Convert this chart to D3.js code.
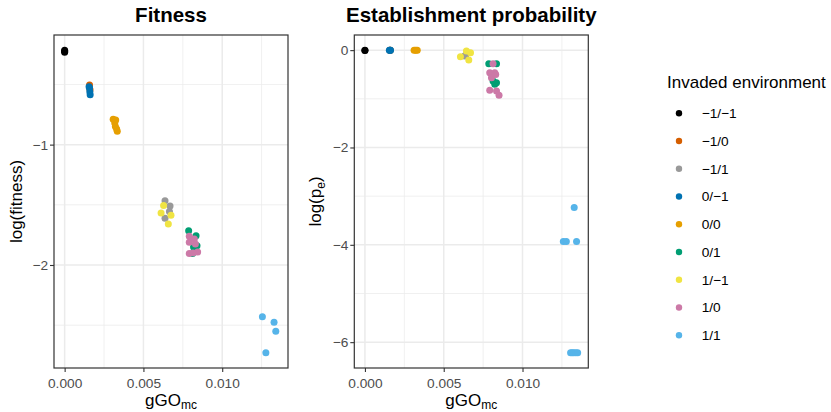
<!DOCTYPE html>
<html>
<head>
<meta charset="utf-8">
<script src="https://cdn.jsdelivr.net/npm/d3@7"></script>
<style>
  html, body { margin: 0; padding: 0; background: #ffffff; }
  svg { display: block; font-family: "Liberation Sans", Arial, Helvetica, sans-serif; }
</style>
</head>
<body>
<svg id="chart" width="831" height="412"></svg>
<script>
// Invaded environment categories and their colours (Okabe–Ito palette)
const envLabels = ["−1/−1", "−1/0", "−1/1", "0/−1", "0/0", "0/1", "1/−1", "1/0", "1/1"];
const envColors = ["#000000", "#D55E00", "#999999", "#0072B2", "#E69F00", "#009E73", "#F0E442", "#CC79A7", "#56B4E9"];

// [gGO_mc, log(fitness)] per invaded environment
const fitness_m1m1 = [[0, -0.215], [0, -0.225], [0, -0.232]];
const fitness_m10  = [[0.00158, -0.505], [0.00161, -0.545]];
const fitness_m11  = [[0.00637, -1.467], [0.00669, -1.509], [0.00665, -1.555], [0.00637, -1.611]];
const fitness_0m1  = [[0.00155, -0.52], [0.00160, -0.56], [0.00162, -0.585], [0.00158, -0.53]];
const fitness_00   = [[0.00308, -0.79], [0.00324, -0.795], [0.00318, -0.82], [0.00322, -0.85], [0.00330, -0.87], [0.00334, -0.888]];
const fitness_01   = [[0.00787, -1.716], [0.00834, -1.757], [0.00840, -1.84], [0.00818, -1.85], [0.00812, -1.905]];
const fitness_1m1  = [[0.00628, -1.505], [0.00612, -1.569], [0.00675, -1.586], [0.00658, -1.66]];
const fitness_10   = [[0.00791, -1.762], [0.00791, -1.812], [0.00823, -1.785], [0.00830, -1.826], [0.00791, -1.905], [0.00844, -1.893], [0.00815, -1.90]];
const fitness_11   = [[0.01255, -2.43], [0.01329, -2.475], [0.01340, -2.55], [0.01277, -2.73]];

// [gGO_mc, log(p_e)] per invaded environment
const pe_m1m1 = [[0, 0], [0, -0.01]];
const pe_m10  = [[0.00158, 0], [0.00161, 0]];
const pe_m11  = [[0.00633, -0.123], [0.00640, -0.10]];
const pe_0m1  = [[0.00155, 0], [0.00160, 0], [0.00162, 0]];
const pe_00   = [[0.00312, 0], [0.00322, 0], [0.00332, 0]];
const pe_01   = [[0.00786, -0.279], [0.00835, -0.279], [0.00813, -0.635], [0.00835, -0.668], [0.00824, -0.70]];
const pe_1m1  = [[0.00606, -0.135], [0.00644, -0.02], [0.00670, -0.053], [0.00659, -0.205]];
const pe_10   = [[0.00813, -0.279], [0.00792, -0.463], [0.00824, -0.463], [0.00803, -0.566], [0.00830, -0.50], [0.00792, -0.826], [0.00835, -0.84], [0.00851, -0.928]];
const pe_11   = [[0.01328, -3.235], [0.01259, -3.93], [0.01278, -3.93], [0.01343, -3.93],
                 [0.01305, -6.22], [0.01315, -6.22], [0.01325, -6.22], [0.01338, -6.22], [0.01350, -6.22]];

// Axis breaks and their labels
const xTicks = [0, 0.005, 0.010];
const xTickLabels = ["0.000", "0.005", "0.010"];
const fitnessTicks = [-1, -2];
const fitnessTickLabels = ["−1", "−2"];
const peTicks = [0, -2, -4, -6];
const peTickLabels = ["0", "−2", "−4", "−6"];

const fitnessSeries = [fitness_m1m1, fitness_m10, fitness_m11, fitness_0m1, fitness_00, fitness_01, fitness_1m1, fitness_10, fitness_11];
const peSeries = [pe_m1m1, pe_m10, pe_m11, pe_0m1, pe_00, pe_01, pe_1m1, pe_10, pe_11];

const svg = d3.select("#chart");
const FONT_TICK = 13.7, FONT_AXIS = 17, FONT_TITLE = 20.5;
const TEXT_GREY = "#4D4D4D", BORDER = "#333333", GRID = "#EBEBEB";
const R = 3.5;

// Continuous range expanded by 5% on each side
function expanded(values) {
  const [lo, hi] = d3.extent(values);
  const pad = (hi - lo) * 0.05;
  return [lo - pad, hi + pad];
}
// Minor breaks halfway between majors, kept within the domain
function minorBreaks(majors, domain) {
  const s = majors.slice().sort((a, b) => a - b);
  const step = s[1] - s[0];
  const out = [];
  for (let v = s[0] - step / 2; v <= domain[1]; v += step) {
    if (v >= domain[0] && v <= domain[1]) out.push(v);
  }
  return out;
}

const allX = fitnessSeries.concat(peSeries).flat().map(d => d[0]);
const xDomain = expanded(allX);

const panels = [
  { left: 54, right: 288, top: 35, bottom: 368, series: fitnessSeries,
    ticks: fitnessTicks, tickLabels: fitnessTickLabels, title: "Fitness", ytitle: "fitness", yTitleX: 22 },
  { left: 354.3, right: 588.3, top: 35, bottom: 368, series: peSeries,
    ticks: peTicks, tickLabels: peTickLabels, title: "Establishment probability", ytitle: "pe", yTitleX: 321 }
];

panels.forEach(p => {
  const yDomain = expanded(p.series.flat().map(d => d[1]));
  const x = d3.scaleLinear().domain(xDomain).range([p.left, p.right]);
  const y = d3.scaleLinear().domain(yDomain).range([p.bottom, p.top]);
  const g = svg.append("g");

  // panel background
  g.append("rect").attr("x", p.left).attr("y", p.top)
    .attr("width", p.right - p.left).attr("height", p.bottom - p.top).attr("fill", "#ffffff");

  // minor grid
  const xMinor = minorBreaks(xTicks, xDomain);
  const yMinor = minorBreaks(p.ticks, yDomain);
  g.selectAll(".xminor").data(xMinor).join("line")
    .attr("x1", d => x(d)).attr("x2", d => x(d)).attr("y1", p.top).attr("y2", p.bottom)
    .attr("stroke", GRID).attr("stroke-width", 0.75);
  g.selectAll(".yminor").data(yMinor).join("line")
    .attr("y1", d => y(d)).attr("y2", d => y(d)).attr("x1", p.left).attr("x2", p.right)
    .attr("stroke", GRID).attr("stroke-width", 0.75);
  // major grid
  g.selectAll(".xmajor").data(xTicks).join("line")
    .attr("x1", d => x(d)).attr("x2", d => x(d)).attr("y1", p.top).attr("y2", p.bottom)
    .attr("stroke", GRID).attr("stroke-width", 1.5);
  g.selectAll(".ymajor").data(p.ticks).join("line")
    .attr("y1", d => y(d)).attr("y2", d => y(d)).attr("x1", p.left).attr("x2", p.right)
    .attr("stroke", GRID).attr("stroke-width", 1.5);

  // points
  p.series.forEach((pts, i) => {
    g.append("g").selectAll("circle").data(pts).join("circle")
      .attr("cx", d => x(d[0])).attr("cy", d => y(d[1])).attr("r", R)
      .attr("fill", envColors[i]);
  });

  // panel border
  g.append("rect").attr("x", p.left).attr("y", p.top)
    .attr("width", p.right - p.left).attr("height", p.bottom - p.top)
    .attr("fill", "none").attr("stroke", BORDER).attr("stroke-width", 1.2);

  // axes
  const xAxis = g.append("g").attr("transform", `translate(0,${p.bottom})`)
    .call(d3.axisBottom(x).tickValues(xTicks).tickSize(4).tickPadding(6)
      .tickFormat((d, i) => xTickLabels[i]));
  const yAxis = g.append("g").attr("transform", `translate(${p.left},0)`)
    .call(d3.axisLeft(y).tickValues(p.ticks).tickSize(4).tickPadding(2)
      .tickFormat((d, i) => p.tickLabels[i]));
  [xAxis, yAxis].forEach(a => {
    a.select(".domain").remove();
    a.selectAll(".tick line").attr("stroke", BORDER).attr("stroke-width", 1.1);
    a.selectAll(".tick text").attr("fill", TEXT_GREY)
      .style("font-size", FONT_TICK + "px").style("font-family", "Liberation Sans, Arial, sans-serif");
  });

  const cx = (p.left + p.right) / 2;
  const cy = (p.top + p.bottom) / 2;

  // panel title
  g.append("text").attr("x", cx).attr("y", 22).attr("text-anchor", "middle")
    .style("font-size", FONT_TITLE + "px").style("font-weight", "bold").text(p.title);

  // x axis title: gGO with subscript mc
  const xt = g.append("text").attr("x", cx).attr("y", 406).attr("text-anchor", "middle")
    .style("font-size", FONT_AXIS + "px");
  xt.append("tspan").text("gGO");
  xt.append("tspan").attr("dy", 3).style("font-size", "12px").text("mc");

  // y axis title
  const yt = g.append("text").attr("transform", `translate(${p.yTitleX},${cy}) rotate(-90)`)
    .attr("text-anchor", "middle").style("font-size", FONT_AXIS + "px");
  if (p.ytitle === "fitness") {
    yt.text("log(fitness)");
  } else {
    yt.append("tspan").text("log(p");
    yt.append("tspan").attr("dy", 3.5).style("font-size", "12px").text("e");
    yt.append("tspan").attr("dy", -3.5).text(")");
  }
});

// legend
const legend = svg.append("g");
legend.append("text").attr("x", 667).attr("y", 88).style("font-size", "17px").text("Invaded environment");
envLabels.forEach((lab, i) => {
  const cy = 113.3 + i * 27.75;
  legend.append("circle").attr("cx", 679).attr("cy", cy).attr("r", 3.2).attr("fill", envColors[i]);
  legend.append("text").attr("x", 701.7).attr("y", cy + 4.9).style("font-size", FONT_TICK + "px").text(lab);
});
</script>
</body>
</html>
